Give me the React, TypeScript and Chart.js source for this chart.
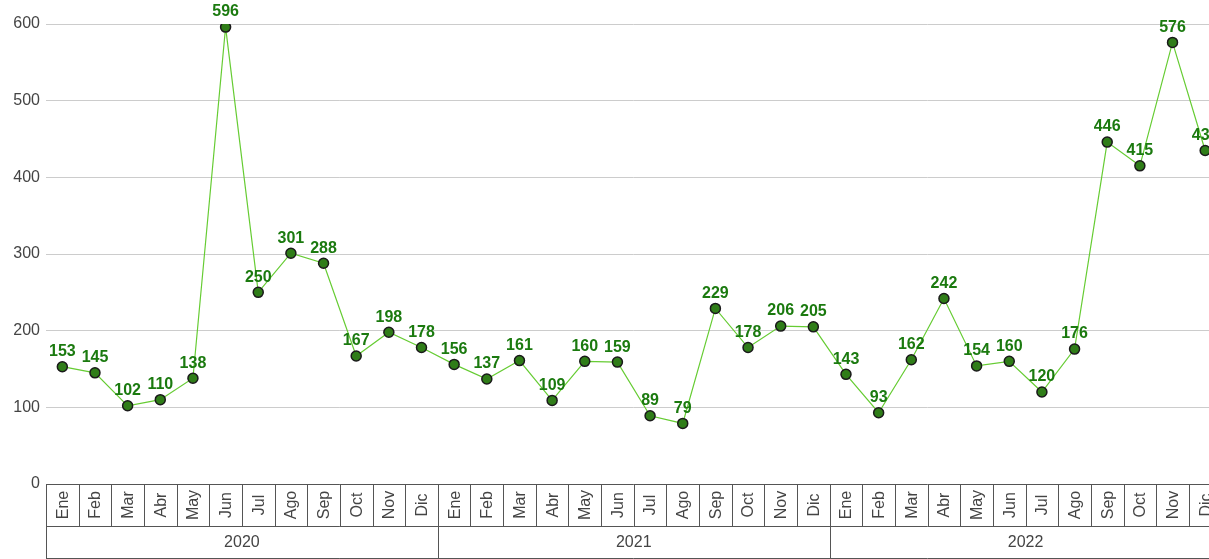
import React, { useEffect, useRef } from "react";
import { Chart, registerables } from "chart.js";

Chart.register(...registerables);

const months = ["Ene", "Feb", "Mar", "Abr", "May", "Jun", "Jul", "Ago", "Sep", "Oct", "Nov", "Dic"];
const years = ["2020", "2021", "2022"];
const values2020 = [153, 145, 102, 110, 138, 596, 250, 301, 288, 167, 198, 178];
const values2021 = [156, 137, 161, 109, 160, 159, 89, 79, 229, 178, 206, 205];
const values2022 = [143, 93, 162, 242, 154, 160, 120, 176, 446, 415, 576, 435];
const yTicks = [0, 100, 200, 300, 400, 500, 600];

const FONT = "'Liberation Sans', Arial, sans-serif";
const TEXT = "#444444";

export default function App() {
  const ref = useRef<HTMLCanvasElement | null>(null);

  useEffect(() => {
    if (!ref.current) return;
    const labels: string[] = [];
    years.forEach((y) => months.forEach((m) => labels.push(m + " " + y)));
    const data = [...values2020, ...values2021, ...values2022];

    const boxPlugin = {
      id: "boxAxis",
      afterDraw(chart: any) {
        const ctx = chart.ctx;
        const xs = chart.scales.x;
        const area = chart.chartArea;
        const n = labels.length;
        const w = (area.right - area.left) / n;
        const top = area.bottom;
        const mid = top + 42;
        const bot = top + 74;
        ctx.save();
        ctx.strokeStyle = "#555555";
        ctx.lineWidth = 1;
        ctx.beginPath();
        ctx.moveTo(area.left, top + 0.5);
        ctx.lineTo(area.right, top + 0.5);
        ctx.moveTo(area.left, mid + 0.5);
        ctx.lineTo(area.right, mid + 0.5);
        ctx.moveTo(area.left, bot + 0.5);
        ctx.lineTo(area.right, bot + 0.5);
        for (let i = 0; i <= n; i++) {
          const x = Math.round(area.left + i * w) + 0.5;
          const isYear = i % 12 === 0;
          ctx.moveTo(x, top);
          ctx.lineTo(x, isYear ? bot : mid);
        }
        ctx.stroke();
        ctx.fillStyle = TEXT;
        ctx.font = "16px " + FONT;
        ctx.textAlign = "center";
        ctx.textBaseline = "middle";
        for (let i = 0; i < n; i++) {
          const cx = xs.getPixelForValue(i);
          ctx.save();
          ctx.translate(cx, (top + mid) / 2);
          ctx.rotate(-Math.PI / 2);
          ctx.fillText(months[i % 12], 0, 1);
          ctx.restore();
        }
        years.forEach((y, k) => {
          const x0 = area.left + k * 12 * w;
          const x1 = area.left + (k + 1) * 12 * w;
          ctx.fillText(y, (x0 + x1) / 2, (mid + bot) / 2 + 1);
        });
        ctx.restore();
      },
    };

    const labelPlugin = {
      id: "valueLabels",
      afterDatasetsDraw(chart: any) {
        const ctx = chart.ctx;
        const meta = chart.getDatasetMeta(0);
        ctx.save();
        ctx.fillStyle = "#1b7a0f";
        ctx.font = "bold 16px " + FONT;
        ctx.textAlign = "center";
        ctx.textBaseline = "bottom";
        meta.data.forEach((pt: any, i: number) => {
          ctx.fillText(String(data[i]), pt.x, pt.y - 7);
        });
        ctx.restore();
      },
    };

    const chart = new Chart(ref.current, {
      type: "line",
      data: {
        labels,
        datasets: [
          {
            data,
            borderColor: "#66cc33",
            borderWidth: 1.2,
            backgroundColor: "#2f7d18",
            pointBackgroundColor: "#2f7d18",
            pointBorderColor: "#1a1a1a",
            pointBorderWidth: 1.5,
            pointRadius: 5,
            tension: 0,
            fill: false,
          },
        ],
      },
      options: {
        responsive: false,
        animation: false,
        layout: { padding: { top: 24, bottom: 75, left: 0, right: 0 } },
        plugins: { legend: { display: false }, tooltip: { enabled: false } },
        scales: {
          x: { type: "category", offset: true, display: false },
          y: {
            min: 0,
            max: 600,
            afterFit(scale: any) {
              scale.width = 46;
            },
            afterBuildTicks(scale: any) {
              scale.ticks = yTicks.map((v) => ({ value: v }));
            },
            border: { display: false },
            grid: {
              drawTicks: false,
              color: (c: any) => (c.tick && c.tick.value === 0 ? "rgba(0,0,0,0)" : "#cccccc"),
              lineWidth: 1,
            },
            ticks: {
              padding: 6,
              color: TEXT,
              font: { size: 16, family: FONT },
            },
          },
        },
      },
      plugins: [boxPlugin, labelPlugin],
    });
    return () => chart.destroy();
  }, []);

  return (
    <div
      style={{
        position: "fixed",
        left: 0,
        top: 0,
        width: 1209,
        height: 559,
        overflow: "hidden",
        background: "#ffffff",
      }}
    >
      <canvas ref={ref} width={1228} height={559} style={{ display: "block" }} />
    </div>
  );
}
